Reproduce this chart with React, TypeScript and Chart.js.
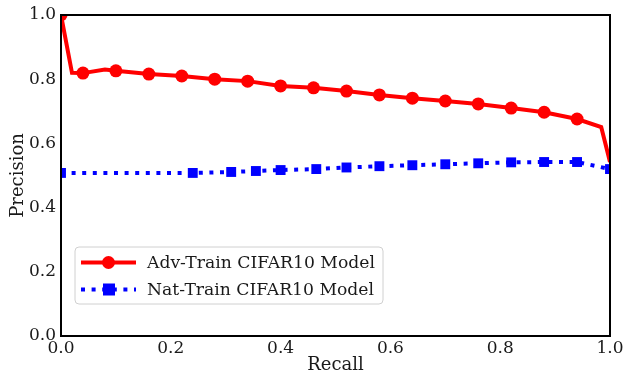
import React, { useEffect, useRef } from "react";
import { Chart, registerables } from "chart.js";

Chart.register(...registerables);

const advRecall = [0, 0.02, 0.04, 0.08, 0.10, 0.16, 0.22, 0.28, 0.34, 0.40, 0.46, 0.52, 0.58, 0.64, 0.70, 0.76, 0.82, 0.88, 0.94, 0.984, 1.0];
const advPrecision = [1.0, 0.82, 0.819, 0.83, 0.826, 0.816, 0.81, 0.80, 0.794, 0.779, 0.773, 0.763, 0.751, 0.741, 0.732, 0.723, 0.71, 0.697, 0.676, 0.651, 0.542];
const advMarker = [1, 0, 1, 0, 1, 1, 1, 1, 1, 1, 1, 1, 1, 1, 1, 1, 1, 1, 1, 0, 0];

const natRecall = [0, 0.24, 0.31, 0.355, 0.40, 0.465, 0.52, 0.58, 0.64, 0.70, 0.76, 0.82, 0.88, 0.94, 1.0];
const natPrecision = [0.508, 0.508, 0.511, 0.514, 0.517, 0.52, 0.525, 0.529, 0.532, 0.535, 0.538, 0.541, 0.542, 0.542, 0.52];

const seriesLabels = ["Adv-Train CIFAR10 Model", "Nat-Train CIFAR10 Model"];
const tickValues = [0, 0.2, 0.4, 0.6, 0.8, 1.0];

const FONT = "'DejaVu Serif', serif";

const frameAndLegend = {
  id: "frameAndLegend",
  afterDatasetsDraw(chart: any) {
    const { ctx, chartArea } = chart;
    const { left, right, top, bottom } = chartArea;
    ctx.save();
    ctx.strokeStyle = "#000";
    ctx.lineWidth = 2;
    ctx.strokeRect(left, top, right - left, bottom - top);

    // legend
    const bx = 75, by = 247, bw = 308, bh = 57, r = 4;
    ctx.beginPath();
    ctx.moveTo(bx + r, by);
    ctx.lineTo(bx + bw - r, by);
    ctx.quadraticCurveTo(bx + bw, by, bx + bw, by + r);
    ctx.lineTo(bx + bw, by + bh - r);
    ctx.quadraticCurveTo(bx + bw, by + bh, bx + bw - r, by + bh);
    ctx.lineTo(bx + r, by + bh);
    ctx.quadraticCurveTo(bx, by + bh, bx, by + bh - r);
    ctx.lineTo(bx, by + r);
    ctx.quadraticCurveTo(bx, by, bx + r, by);
    ctx.closePath();
    ctx.fillStyle = "rgba(255,255,255,0.8)";
    ctx.fill();
    ctx.strokeStyle = "#d0d0d0";
    ctx.lineWidth = 1;
    ctx.stroke();

    const rows = [262.5, 289.5];
    chart.data.datasets.forEach((ds: any, i: number) => {
      const y = rows[i];
      ctx.save();
      ctx.strokeStyle = ds.borderColor;
      ctx.lineWidth = ds.borderWidth;
      ctx.setLineDash(ds.borderDash || []);
      ctx.lineCap = "butt";
      ctx.beginPath();
      ctx.moveTo(81, y);
      ctx.lineTo(136, y);
      ctx.stroke();
      ctx.setLineDash([]);
      ctx.fillStyle = ds.pointBackgroundColor;
      if (ds.pointStyle === "rect") {
        ctx.fillRect(109 - 6, y - 6, 12, 12);
      } else {
        ctx.beginPath();
        ctx.arc(108.5, y, 6.5, 0, Math.PI * 2);
        ctx.fill();
      }
      ctx.fillStyle = "#1a1a1a";
      ctx.font = `17.2px ${FONT}`;
      ctx.textBaseline = "middle";
      ctx.textAlign = "left";
      ctx.fillText(ds.label, 147, y + 1);
      ctx.restore();
    });
    ctx.restore();
  },
};

export default function App() {
  const ref = useRef<HTMLCanvasElement | null>(null);
  useEffect(() => {
    document.body.style.margin = "0";
    const canvas = ref.current!;
    const chart = new Chart(canvas, {
      type: "line",
      data: {
        datasets: [
          {
            label: seriesLabels[0],
            data: advRecall.map((x, i) => ({ x, y: advPrecision[i] })),
            borderColor: "#ff0000",
            backgroundColor: "#ff0000",
            pointBackgroundColor: "#ff0000",
            pointBorderColor: "#ff0000",
            borderWidth: 4,
            pointRadius: advMarker.map((m) => (m ? 6.5 : 0)),
            pointBorderWidth: 0,
            pointStyle: "circle",
            tension: 0,
            clip: 0,
          } as any,
          {
            label: seriesLabels[1],
            data: natRecall.map((x, i) => ({ x, y: natPrecision[i] })),
            borderColor: "#0000ff",
            backgroundColor: "#0000ff",
            pointBackgroundColor: "#0000ff",
            pointBorderColor: "#0000ff",
            borderWidth: 4,
            borderDash: [4, 6.6],
            pointRadius: 7,
            pointBorderWidth: 0,
            pointStyle: "rect",
            tension: 0,
            clip: 0,
          } as any,
        ],
      },
      options: {
        animation: false,
        responsive: false,
        devicePixelRatio: 1,
        layout: { padding: { left: 0, right: 16, top: 15, bottom: 0 } },
        plugins: { legend: { display: false }, tooltip: { enabled: false } },
        scales: {
          x: {
            type: "linear",
            min: 0,
            max: 1,
            grid: { display: false, drawTicks: false },
            border: { display: false },
            afterBuildTicks: (s: any) => {
              s.ticks = tickValues.map((v) => ({ value: v }));
            },
            afterFit: (s: any) => {
              s.height = 39;
              s.paddingLeft = 0;
              s.paddingRight = 0;
            },
            ticks: {
              padding: 2,
              color: "#1a1a1a",
              font: { family: FONT, size: 17 },
              callback: (v: any) => Number(v).toFixed(1),
              maxRotation: 0,
            },
            title: {
              display: true,
              text: "Recall",
              color: "#1a1a1a",
              font: { family: FONT, size: 18 },
              padding: { top: 0, bottom: -1 },
            },
          },
          y: {
            type: "linear",
            min: 0,
            max: 1,
            grid: { display: false, drawTicks: false },
            border: { display: false },
            afterBuildTicks: (s: any) => {
              s.ticks = tickValues.map((v) => ({ value: v }));
            },
            afterFit: (s: any) => {
              s.width = 61;
              s.paddingTop = 0;
              s.paddingBottom = 0;
            },
            ticks: {
              padding: 5,
              color: "#1a1a1a",
              font: { family: FONT, size: 17 },
              callback: (v: any) => Number(v).toFixed(1),
            },
            title: {
              display: true,
              text: "Precision",
              color: "#1a1a1a",
              font: { family: FONT, size: 18 },
              padding: { top: 8, bottom: 0 },
            },
          },
        },
      },
      plugins: [frameAndLegend],
    });
    return () => chart.destroy();
  }, []);
  return <canvas ref={ref} width={626} height={375} style={{ display: "block" }} />;
}
